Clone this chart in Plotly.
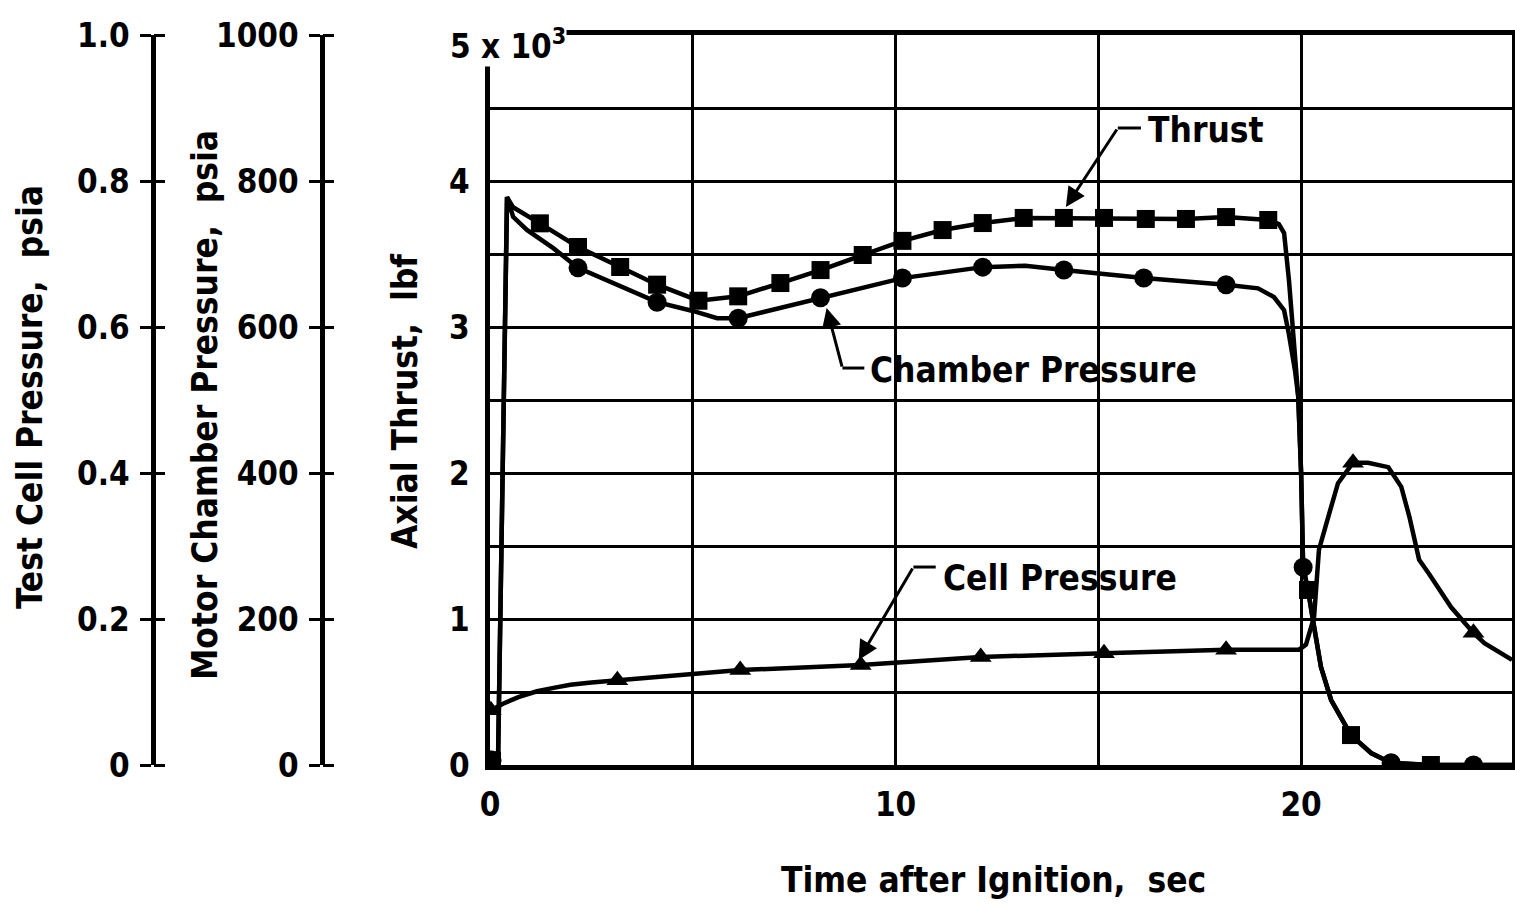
import plotly.graph_objects as go

# ---------------- data ----------------
# Axial thrust, lbf (continuous curve)
thrust_t = [0.05, 0.2, 0.42, 0.57, 1.23, 2.17, 3.21, 4.12, 5.14, 6.12, 7.16, 8.15, 9.19,
            10.17, 11.16, 12.15, 13.16, 14.15, 15.14, 16.17, 17.16, 18.15, 19.19, 19.45,
            19.58, 19.70, 19.80, 19.93, 20.0, 20.05, 20.17, 20.30, 20.49, 20.74, 21.23,
            21.73, 22.22, 23.2, 24.25, 25.2]
thrust_lbf = [30, 60, 3890, 3820, 3710, 3548, 3411, 3290, 3180, 3210, 3301, 3390, 3493,
              3590, 3664, 3712, 3747, 3747, 3747, 3740, 3740, 3753, 3733, 3705,
              3644, 3322, 2979, 2521, 2000, 1356, 1199, 973, 671, 445, 205,
              82, 14, 0, 0, 0]
# Thrust symbols (squares)
thrust_mark_t = [0.05, 1.23, 2.17, 3.21, 4.12, 5.14, 6.12, 7.16, 8.15, 9.19, 10.17, 11.16,
                 12.15, 13.16, 14.15, 15.14, 16.17, 17.16, 18.15, 19.19, 20.17, 21.23, 23.2]
thrust_mark_lbf = [30, 3710, 3548, 3411, 3290, 3180, 3210, 3301, 3390, 3493, 3590, 3664,
                   3712, 3747, 3747, 3747, 3740, 3740, 3753, 3733, 1199, 205, 0]

# Motor chamber pressure, psia
chamber_t = [0.05, 0.2, 0.42, 0.57, 0.91, 1.56, 2.17, 3.1, 4.12, 5.0, 5.6, 6.12, 7.0, 8.15,
             10.17, 12.15, 13.2, 14.15, 16.12, 18.15, 18.94, 19.33, 19.58, 19.70, 19.85,
             19.93, 20.0, 20.05, 20.17, 20.30, 20.49, 20.74, 21.23, 21.73, 22.22, 23.2,
             24.25, 25.2]
chamber_psia = [7, 12, 778, 751, 733, 708, 681, 658, 634, 622, 612, 612, 624, 640,
                667, 682, 684, 678, 667, 658, 653, 641, 623, 590, 540,
                504, 400, 271, 240, 195, 134, 89, 41, 16, 3, 0,
                0, 0]
chamber_mark_t = [0.05, 2.17, 4.12, 6.12, 8.15, 10.17, 12.15, 14.15, 16.12, 18.15, 20.05,
                  22.22, 24.25]
chamber_mark_psia = [7, 681, 634, 612, 640, 667, 682, 678, 667, 658, 271, 3, 0]

# Test cell pressure, psia
cell_t = [0.02, 0.32, 0.7, 1.16, 1.6, 1.98, 2.5, 3.14, 6.17, 9.14, 12.1, 15.14, 18.15,
          19.95, 20.12, 20.32, 20.37, 20.44, 20.67, 20.91, 21.28, 21.65, 22.15, 22.47,
          22.67, 22.91, 23.14, 23.70, 24.25, 24.52, 25.2]
cell_psia = [0.075, 0.084, 0.093, 0.101, 0.106, 0.110, 0.113, 0.116, 0.130, 0.137, 0.148,
             0.153, 0.158, 0.158, 0.165, 0.203, 0.249, 0.295, 0.340, 0.386, 0.414, 0.414,
             0.408, 0.381, 0.340, 0.281, 0.263, 0.216, 0.181, 0.167, 0.144]
cell_mark_t = [0.02, 3.14, 6.17, 9.14, 12.1, 15.14, 18.15, 21.28, 24.25]
cell_mark_psia = [0.075, 0.116, 0.130, 0.137, 0.148, 0.153, 0.158, 0.414, 0.181]

# Axis ticks
time_ticks = [0, 5, 10, 15, 20]
time_tick_text = ["0", "", "10", "", "20"]
thrust_ticks = [0, 500, 1000, 1500, 2000, 2500, 3000, 3500, 4000, 4500, 5000]
thrust_tick_text = ["0", "", "1", "", "2", "", "3", "", "4", "", ""]
cell_ticks = [0, 0.2, 0.4, 0.6, 0.8, 1.0]
cell_tick_text = ["0", "0.2", "0.4", "0.6", "0.8", "1.0"]
chamber_ticks = [0, 200, 400, 600, 800, 1000]
chamber_tick_text = ["0", "200", "400", "600", "800", "1000"]

# ---------------- figure ----------------
W, H = 1515, 906
FONT = "DejaVu Sans Condensed, DejaVu Sans, sans-serif"
BLK = "black"
LW = 4.5


def px(xp):
    return xp / W


def py(yp):
    return 1 - yp / H


fig = go.Figure()

fig.add_trace(go.Scatter(x=thrust_t, y=thrust_lbf, mode="lines",
                         line=dict(color=BLK, width=LW), yaxis="y", showlegend=False))
fig.add_trace(go.Scatter(x=chamber_t, y=chamber_psia, mode="lines",
                         line=dict(color=BLK, width=LW), yaxis="y4", showlegend=False))
fig.add_trace(go.Scatter(x=cell_t, y=cell_psia, mode="lines",
                         line=dict(color=BLK, width=LW), yaxis="y2", showlegend=False))
fig.add_trace(go.Scatter(x=thrust_mark_t, y=thrust_mark_lbf, mode="markers",
                         marker=dict(symbol="square", size=18, color=BLK),
                         yaxis="y", showlegend=False))
fig.add_trace(go.Scatter(x=chamber_mark_t, y=chamber_mark_psia, mode="markers",
                         marker=dict(symbol="circle", size=19, color=BLK),
                         yaxis="y4", showlegend=False))
fig.add_trace(go.Scatter(x=cell_mark_t, y=cell_mark_psia, mode="markers",
                         marker=dict(symbol="triangle-up", size=19, color=BLK),
                         yaxis="y2", showlegend=False))
# placeholders so the right-hand tick halves are drawn
fig.add_trace(go.Scatter(x=[None], y=[None], yaxis="y3", showlegend=False, hoverinfo="skip"))
fig.add_trace(go.Scatter(x=[None], y=[None], yaxis="y5", showlegend=False, hoverinfo="skip"))

tickfont = dict(family=FONT, size=33, color=BLK, weight="bold")
xdom = [px(490), px(1512)]
ydom = [py(765), py(35)]

fig.update_layout(
    template="none",
    width=W, height=H,
    margin=dict(l=0, r=0, t=0, b=0),
    paper_bgcolor="white", plot_bgcolor="white",
    showlegend=False,
    xaxis=dict(domain=xdom, range=[0, 25.2], tickvals=time_ticks, ticktext=time_tick_text,
               showgrid=True, gridcolor=BLK, gridwidth=3, zeroline=False,
               showline=True, linecolor=BLK, linewidth=4.5, mirror=True,
               ticks="", tickfont=tickfont, ticklabelstandoff=7, automargin=False),
    yaxis=dict(domain=ydom, range=[0, 5000], tickvals=thrust_ticks, ticktext=thrust_tick_text,
               showgrid=True, gridcolor=BLK, gridwidth=3, zeroline=False,
               showline=True, linecolor=BLK, linewidth=4.5, mirror=True,
               ticks="", tickfont=tickfont, ticklabelstandoff=9, automargin=False),
    yaxis2=dict(overlaying="y", anchor="free", position=px(153), side="left",
                range=[0, 1.0], tickvals=cell_ticks, ticktext=cell_tick_text,
                showgrid=False, zeroline=False, showline=True, linecolor=BLK, linewidth=4.5,
                ticks="outside", ticklen=11, tickwidth=3, tickcolor=BLK,
                tickfont=tickfont, ticklabelstandoff=4, automargin=False),
    yaxis3=dict(overlaying="y", anchor="free", position=px(153), side="right",
                range=[0, 1.0], tickvals=cell_ticks, showticklabels=False,
                showgrid=False, zeroline=False, showline=False,
                ticks="outside", ticklen=11, tickwidth=3, tickcolor=BLK, automargin=False),
    yaxis4=dict(overlaying="y", anchor="free", position=px(322), side="left",
                range=[0, 1000], tickvals=chamber_ticks, ticktext=chamber_tick_text,
                showgrid=False, zeroline=False, showline=True, linecolor=BLK, linewidth=4.5,
                ticks="outside", ticklen=11, tickwidth=3, tickcolor=BLK,
                tickfont=tickfont, ticklabelstandoff=4, automargin=False),
    yaxis5=dict(overlaying="y", anchor="free", position=px(322), side="right",
                range=[0, 1000], tickvals=chamber_ticks, showticklabels=False,
                showgrid=False, zeroline=False, showline=False,
                ticks="outside", ticklen=11, tickwidth=3, tickcolor=BLK, automargin=False),
)

tfont = dict(family=FONT, size=35, color=BLK, weight="bold")
ann = []
# axis titles
ann.append(dict(text="Time after Ignition,  sec", x=px(993), y=py(880), xref="paper", yref="paper",
                showarrow=False, font=tfont, xanchor="center", yanchor="middle"))
ann.append(dict(text="Axial Thrust,  lbf", x=px(405), y=py(402), xref="paper", yref="paper",
                showarrow=False, font=tfont, textangle=-90, xanchor="center", yanchor="middle"))
ann.append(dict(text="Test Cell Pressure,  psia", x=px(30), y=py(397), xref="paper", yref="paper",
                showarrow=False, font=tfont, textangle=-90, xanchor="center", yanchor="middle"))
ann.append(dict(text="Motor Chamber Pressure,  psia", x=px(205), y=py(405), xref="paper",
                yref="paper", showarrow=False, font=tfont, textangle=-90,
                xanchor="center", yanchor="middle"))
# scale multiplier
ann.append(dict(text="5 x 10<sup>3</sup>", x=px(567), y=py(44), xref="paper", yref="paper",
                showarrow=False, font=tickfont, xanchor="right", yanchor="middle",
                bgcolor="white", borderpad=0))

# curve labels with leader lines
labels = [
    # text, text pos, elbow, horizontal end, arrow tip
    ("Thrust", (16.17, 4349), (15.48, 4363), (16.05, 4363), (14.2, 3822)),
    ("Chamber Pressure", (9.33, 2705), (8.69, 2719), (9.23, 2719), (8.30, 3130)),
    ("Cell Pressure", (11.11, 1281), (10.44, 1356), (10.99, 1356), (9.09, 719)),
]
shapes = []
for text, tp, elbow, hend, tip in labels:
    ann.append(dict(text=text, x=tp[0], y=tp[1], xref="x", yref="y", showarrow=False,
                    font=tfont, xanchor="left", yanchor="middle"))
    shapes.append(dict(type="line", xref="x", yref="y", x0=elbow[0], y0=elbow[1],
                       x1=hend[0], y1=hend[1], line=dict(color=BLK, width=3)))
    ann.append(dict(text="", x=tip[0], y=tip[1], xref="x", yref="y",
                    ax=elbow[0], ay=elbow[1], axref="x", ayref="y", showarrow=True,
                    arrowhead=2, arrowsize=1.3, arrowwidth=3, arrowcolor=BLK, standoff=0))

fig.update_layout(annotations=ann, shapes=shapes)

fig.write_html("out.html", config={"displayModeBar": False},
               post_script="document.body.style.margin='0';document.body.style.overflow='hidden';")
